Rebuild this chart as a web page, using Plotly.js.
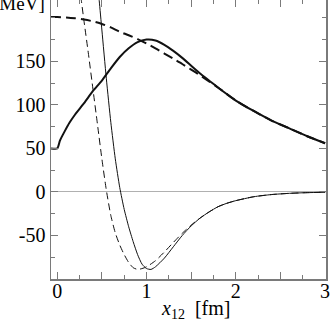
<!DOCTYPE html>
<html>
<head>
<meta charset="utf-8">
<script src="https://cdn.plot.ly/plotly-3.0.1.min.js"></script>
<style>
  html, body { margin: 0; padding: 0; background: #fff; }
  #chart { width: 332px; height: 327px; }
</style>
</head>
<body>
<div id="chart"></div>
<script>
// thick solid curve
const thickSolidX = [-0.07, 0, 0.03, 0.08, 0.14, 0.2, 0.3, 0.4, 0.5, 0.6, 0.7, 0.8, 0.9, 1.0, 1.1, 1.2, 1.3, 1.4, 1.5, 1.6, 1.7, 1.8, 2.0, 2.2, 2.4, 2.6, 2.8, 3.0];
const thickSolidY = [50, 50, 59, 69, 80, 89, 102, 116, 128, 142, 155, 165, 172, 175, 174, 169, 162, 154, 145, 136, 128, 120, 105, 93, 82, 73, 64, 56];

// thick dashed curve
const thickDashX = [-0.07, 0, 0.1, 0.2, 0.3, 0.4, 0.5, 0.6, 0.7, 0.8, 0.9, 1.0, 1.1, 1.2, 1.3, 1.4, 1.5, 1.6, 1.7, 1.8, 2.0, 2.2, 2.4, 2.6, 2.8, 3.0];
const thickDashY = [201, 201, 200.5, 199.5, 198, 196, 193, 189, 184, 180, 175.5, 170.5, 165, 159, 153, 147, 140.5, 134, 127, 120, 105, 93, 82, 73, 64, 56];

// thin solid curve
const thinSolidX = [0.44, 0.47, 0.5, 0.55, 0.6, 0.65, 0.7, 0.75, 0.8, 0.85, 0.9, 0.95, 1.0, 1.05, 1.1, 1.2, 1.3, 1.4, 1.5, 1.6, 1.7, 1.8, 1.9, 2.0, 2.2, 2.4, 2.6, 2.8, 3.0];
const thinSolidY = [255, 220, 186, 130, 80, 38, 5, -20, -40, -57, -72, -83, -88, -89, -86, -76, -63, -50, -39, -30, -23, -17, -13, -10, -5.5, -3, -1.6, -0.8, -0.4];

// thin dashed curve
const thinDashX = [0.24, 0.27, 0.3, 0.35, 0.4, 0.45, 0.5, 0.55, 0.6, 0.65, 0.7, 0.75, 0.8, 0.85, 0.9, 0.95, 1.0, 1.1, 1.2, 1.3, 1.4, 1.5, 1.6, 1.7, 1.8, 1.9, 2.0, 2.2, 2.4, 2.6, 2.8, 3.0];
const thinDashY = [250, 220, 196, 158, 118, 78, 38, 2, -27, -47, -61, -72, -81, -87, -89, -88, -86, -79, -69, -58, -47.5, -38, -30, -23, -17, -13, -10, -5.5, -3, -1.6, -0.8, -0.4];

// ticks
const xTickVals = [0, 1, 2, 3];
const xHalfTicks = [0.5, 1.5, 2.5];
const yTickVals = [-50, 0, 50, 100, 150];

const xRange = [-0.07, 3.01];
const yRange = [-100, 220.5];

const ink = '#111';
const frame = '#7a7a7a';
const serif = 'Liberation Serif';

function curve(x, y, width, dash) {
    return {
        x: x, y: y,
        type: 'scatter',
        mode: 'lines',
        line: { color: ink, width: width, dash: dash, shape: 'spline', smoothing: 0.6 },
        hoverinfo: 'skip'
    };
}

const traces = [
    curve(thinDashX, thinDashY, 1, '7px,4px'),
    curve(thinSolidX, thinSolidY, 1, 'solid'),
    curve(thickDashX, thickDashY, 2, '10px,5px'),
    curve(thickSolidX, thickSolidY, 2, 'solid'),
    // empty trace so the half-step tick axis gets drawn
    { x: [], y: [], type: 'scatter', mode: 'lines', xaxis: 'x2', yaxis: 'y', hoverinfo: 'skip' }
];

const axisCommon = {
    ticks: 'inside',
    tickcolor: frame,
    tickwidth: 1,
    ticklen: 7,
    showline: true,
    linecolor: frame,
    linewidth: 1.5,
    mirror: 'ticks',
    showgrid: false,
    tickmode: 'array',
    tickfont: { family: serif, size: 20, color: '#000' }
};

const layout = {
    width: 332,
    height: 327,
    font: { family: serif },
    margin: { l: 51, r: 6, t: 0, b: 48, pad: 0 },
    paper_bgcolor: '#fff',
    plot_bgcolor: '#fff',
    showlegend: false,
    xaxis: Object.assign({}, axisCommon, {
        range: xRange,
        tickvals: xTickVals,
        zeroline: false,
        ticklabelstandoff: -7,
        minor: { tickmode: 'linear', tick0: 0, dtick: 0.25, ticks: 'inside', ticklen: 4, tickcolor: frame, showgrid: false }
    }),
    xaxis2: {
        overlaying: 'x',
        anchor: 'y',
        side: 'bottom',
        range: xRange,
        tickmode: 'array',
        tickvals: xHalfTicks,
        ticks: 'inside',
        ticklen: 7,
        tickwidth: 1,
        tickcolor: frame,
        mirror: 'ticks',
        showline: false,
        showgrid: false,
        zeroline: false,
        showticklabels: false
    },
    yaxis: Object.assign({}, axisCommon, {
        range: yRange,
        tickvals: yTickVals,
        ticktext: yTickVals.map(String),
        zeroline: true,
        zerolinecolor: '#b0b0b0',
        zerolinewidth: 1,
        minor: { tickmode: 'linear', tick0: 0, dtick: 25, ticks: 'inside', ticklen: 4, tickcolor: frame, showgrid: false }
    }),
    annotations: [
        {
            text: '[MeV]',
            xref: 'paper', yref: 'paper',
            x: -0.015, y: 0.9875,
            xanchor: 'right', yanchor: 'middle',
            showarrow: false,
            font: { family: serif, size: 19, color: '#000' }
        },
        {
            text: '<i>x</i><sub>12</sub>  [fm]',
            xref: 'paper', yref: 'paper',
            x: 0.524, y: -0.108,
            xanchor: 'center', yanchor: 'middle',
            showarrow: false,
            font: { family: serif, size: 20, color: '#000' }
        }
    ]
};

Plotly.newPlot('chart', traces, layout, { staticPlot: true, displayModeBar: false });
</script>
</body>
</html>
